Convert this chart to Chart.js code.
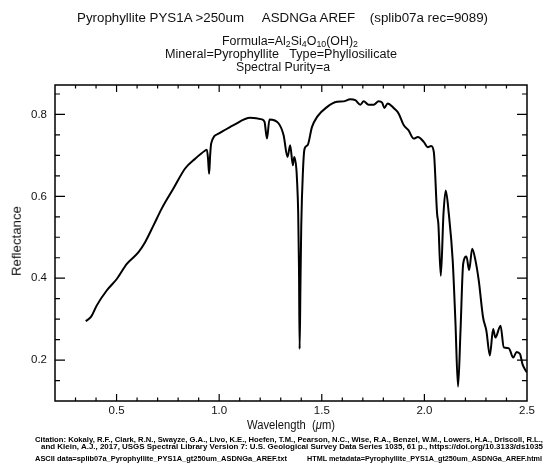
<!DOCTYPE html>
<html>
<head>
<meta charset="utf-8">
<script src="https://cdn.jsdelivr.net/npm/chart.js@4.4.1/dist/chart.umd.min.js"></script>
<style>
  body { margin: 0; background: #fff; }
  #wrap { position: relative; width: 544px; height: 472px; overflow: hidden;
          font-family: 'Liberation Sans', Arial, sans-serif; color: #111; }
  #wrap canvas { position: absolute; left: 0; top: 0; }
  .txt { position: absolute; white-space: pre; line-height: 1; }
  .fit { transform-origin: left top; }
  .head { font-size: 12px; }
  sub { font-size: 8.5px; vertical-align: -2px; line-height: 0; }
  .small { font-size: 6.6px; font-weight: bold; color: #000; }
</style>
</head>
<body>
<div id="wrap">
  <canvas id="spec" width="544" height="472"></canvas>
  <div class="txt head fit" data-x="77" data-w="411" style="top:12px">Pyrophyllite PYS1A &gt;250um     ASDNGa AREF    (splib07a rec=9089)</div>
  <div class="txt head fit" data-x="222" data-w="136" style="top:35px">Formula=Al<sub>2</sub>Si<sub>4</sub>O<sub>10</sub>(OH)<sub>2</sub></div>
  <div class="txt head fit" data-x="165" data-w="232" style="top:48px">Mineral=Pyrophyllite   Type=Phyllosilicate</div>
  <div class="txt head fit" data-x="236" data-w="94" style="top:61px">Spectral Purity=a</div>
  <div class="txt" style="left:17px;top:241px;font-size:12.5px;transform:translate(-50%,-50%) rotate(-90deg) scaleX(1.06)">Reflectance</div>
  <div class="txt head fit" data-x="247" data-w="88" style="top:419px">Wavelength  (<i>μ</i>m)</div>
  <div class="txt small fit" data-x="35" data-w="508" style="top:437px">Citation: Kokaly, R.F., Clark, R.N., Swayze, G.A., Livo, K.E., Hoefen, T.M., Pearson, N.C., Wise, R.A., Benzel, W.M., Lowers, H.A., Driscoll, R.L.,</div>
  <div class="txt small fit" data-x="41" data-w="502" style="top:444px">and Klein, A.J., 2017, USGS Spectral Library Version 7: U.S. Geological Survey Data Series 1035, 61 p., https://doi.org/10.3133/ds1035</div>
  <div class="txt small fit" data-x="35" data-w="252" style="top:456px">ASCII data=splib07a_Pyrophyllite_PYS1A_gt250um_ASDNGa_AREF.txt</div>
  <div class="txt small fit" data-x="307" data-w="235" style="top:456px">HTML metadata=Pyrophyllite_PYS1A_gt250um_ASDNGa_AREF.html</div>
</div>
<script>
// spectrum: wavelength in micrometres, reflectance
const wavelength = [
  0.350, 0.376, 0.403, 0.452, 0.501, 0.550, 0.606, 0.639, 0.680, 0.720,
  0.777, 0.834, 0.883, 0.932, 0.940, 0.946, 0.951, 0.956, 0.961, 0.997,
  1.070, 1.151, 1.208, 1.221, 1.233, 1.245, 1.290, 1.314, 1.333, 1.346,
  1.359, 1.366, 1.376, 1.379, 1.385, 1.389, 1.392, 1.396, 1.400, 1.408,
  1.416, 1.431, 1.452, 1.477, 1.525, 1.574, 1.606, 1.639, 1.663, 1.688,
  1.704, 1.728, 1.753, 1.777, 1.794, 1.805, 1.821, 1.850, 1.875, 1.899,
  1.923, 1.948, 1.968, 1.997, 2.016, 2.033, 2.046, 2.062, 2.068, 2.080,
  2.093, 2.104, 2.119, 2.138, 2.151, 2.164, 2.176, 2.189, 2.205, 2.218,
  2.233, 2.249, 2.265, 2.286, 2.302, 2.319, 2.335, 2.346, 2.371, 2.387,
  2.411, 2.433, 2.449, 2.466, 2.478, 2.494, 2.500
];
const reflectance = [
  0.295, 0.306, 0.333, 0.370, 0.398, 0.435, 0.463, 0.488, 0.529, 0.570,
  0.619, 0.668, 0.692, 0.712, 0.714, 0.690, 0.655, 0.700, 0.729, 0.753,
  0.774, 0.792, 0.788, 0.782, 0.741, 0.788, 0.778, 0.749, 0.696, 0.725,
  0.676, 0.696, 0.668, 0.643, 0.561, 0.423, 0.227, 0.382, 0.529, 0.659,
  0.716, 0.725, 0.769, 0.794, 0.818, 0.831, 0.832, 0.837, 0.835, 0.824,
  0.832, 0.824, 0.824, 0.832, 0.829, 0.816, 0.827, 0.816, 0.802, 0.774,
  0.761, 0.741, 0.745, 0.733, 0.720, 0.723, 0.708, 0.557, 0.533, 0.406,
  0.557, 0.614, 0.557, 0.443, 0.296, 0.135, 0.272, 0.435, 0.453, 0.420,
  0.472, 0.443, 0.394, 0.304, 0.272, 0.211, 0.276, 0.255, 0.284, 0.231,
  0.229, 0.206, 0.220, 0.215, 0.190, 0.174, 0.170
];
const xTickValues = [0.5, 1.0, 1.5, 2.0, 2.5];
const yTickValues = [0.2, 0.4, 0.6, 0.8];

// stretch each text line to the width it takes in the plot layout
document.querySelectorAll('.fit').forEach(el => {
  el.style.left = el.dataset.x + 'px';
  const w = el.getBoundingClientRect().width;
  el.style.transform = 'scaleX(' + (el.dataset.w / w) + ')';
});

// box around the plot with inward ticks on all four sides
const boxTicks = {
  id: 'boxTicks',
  afterDraw(chart) {
    const { ctx, chartArea: a, scales: { x, y } } = chart;
    ctx.save();
    ctx.strokeStyle = '#000';
    ctx.lineWidth = 1.5;
    ctx.strokeRect(a.left, a.top, a.right - a.left, a.bottom - a.top);
    ctx.lineWidth = 1.2;
    ctx.beginPath();
    for (let i = 3; i < 25; i++) {
      const px = x.getPixelForValue(i / 10);
      const len = i % 5 === 0 ? 7 : 3.5;
      ctx.moveTo(px, a.bottom); ctx.lineTo(px, a.bottom - len);
      ctx.moveTo(px, a.top); ctx.lineTo(px, a.top + len);
    }
    for (let i = 3; i <= 17; i++) {
      const py = y.getPixelForValue(i * 0.05);
      const len = i % 4 === 0 ? 10 : 5;
      ctx.moveTo(a.left, py); ctx.lineTo(a.left + len, py);
      ctx.moveTo(a.right, py); ctx.lineTo(a.right - len, py);
    }
    ctx.stroke();
    ctx.restore();
  }
};

const tickFont = { family: "'Liberation Sans', Arial, sans-serif", size: 11.5 };

new Chart(document.getElementById('spec'), {
  type: 'line',
  data: {
    datasets: [{
      data: wavelength.map((w, i) => ({ x: w, y: reflectance[i] })),
      borderColor: '#000',
      borderWidth: 2,
      pointRadius: 0,
      cubicInterpolationMode: 'monotone',
      fill: false
    }]
  },
  options: {
    responsive: false,
    animation: false,
    devicePixelRatio: 1,
    layout: { padding: { left: 0, top: 85, right: 17, bottom: 0 } },
    plugins: { legend: { display: false }, tooltip: { enabled: false } },
    scales: {
      x: {
        type: 'linear', min: 0.2, max: 2.5,
        grid: { display: false, drawTicks: false },
        border: { display: false },
        afterBuildTicks: s => { s.ticks = xTickValues.map(v => ({ value: v })); },
        afterFit: s => { s.height = 71; },
        ticks: { color: '#111', font: tickFont, padding: 3, maxRotation: 0,
                 callback: v => v.toFixed(1) }
      },
      y: {
        type: 'linear', min: 0.1, max: 0.872,
        grid: { display: false, drawTicks: false },
        border: { display: false },
        afterBuildTicks: s => { s.ticks = yTickValues.map(v => ({ value: v })); },
        afterFit: s => { s.width = 55; },
        ticks: { color: '#111', font: tickFont, padding: 8,
                 callback: v => v.toFixed(1) }
      }
    }
  },
  plugins: [boxTicks]
});
</script>
</body>
</html>
